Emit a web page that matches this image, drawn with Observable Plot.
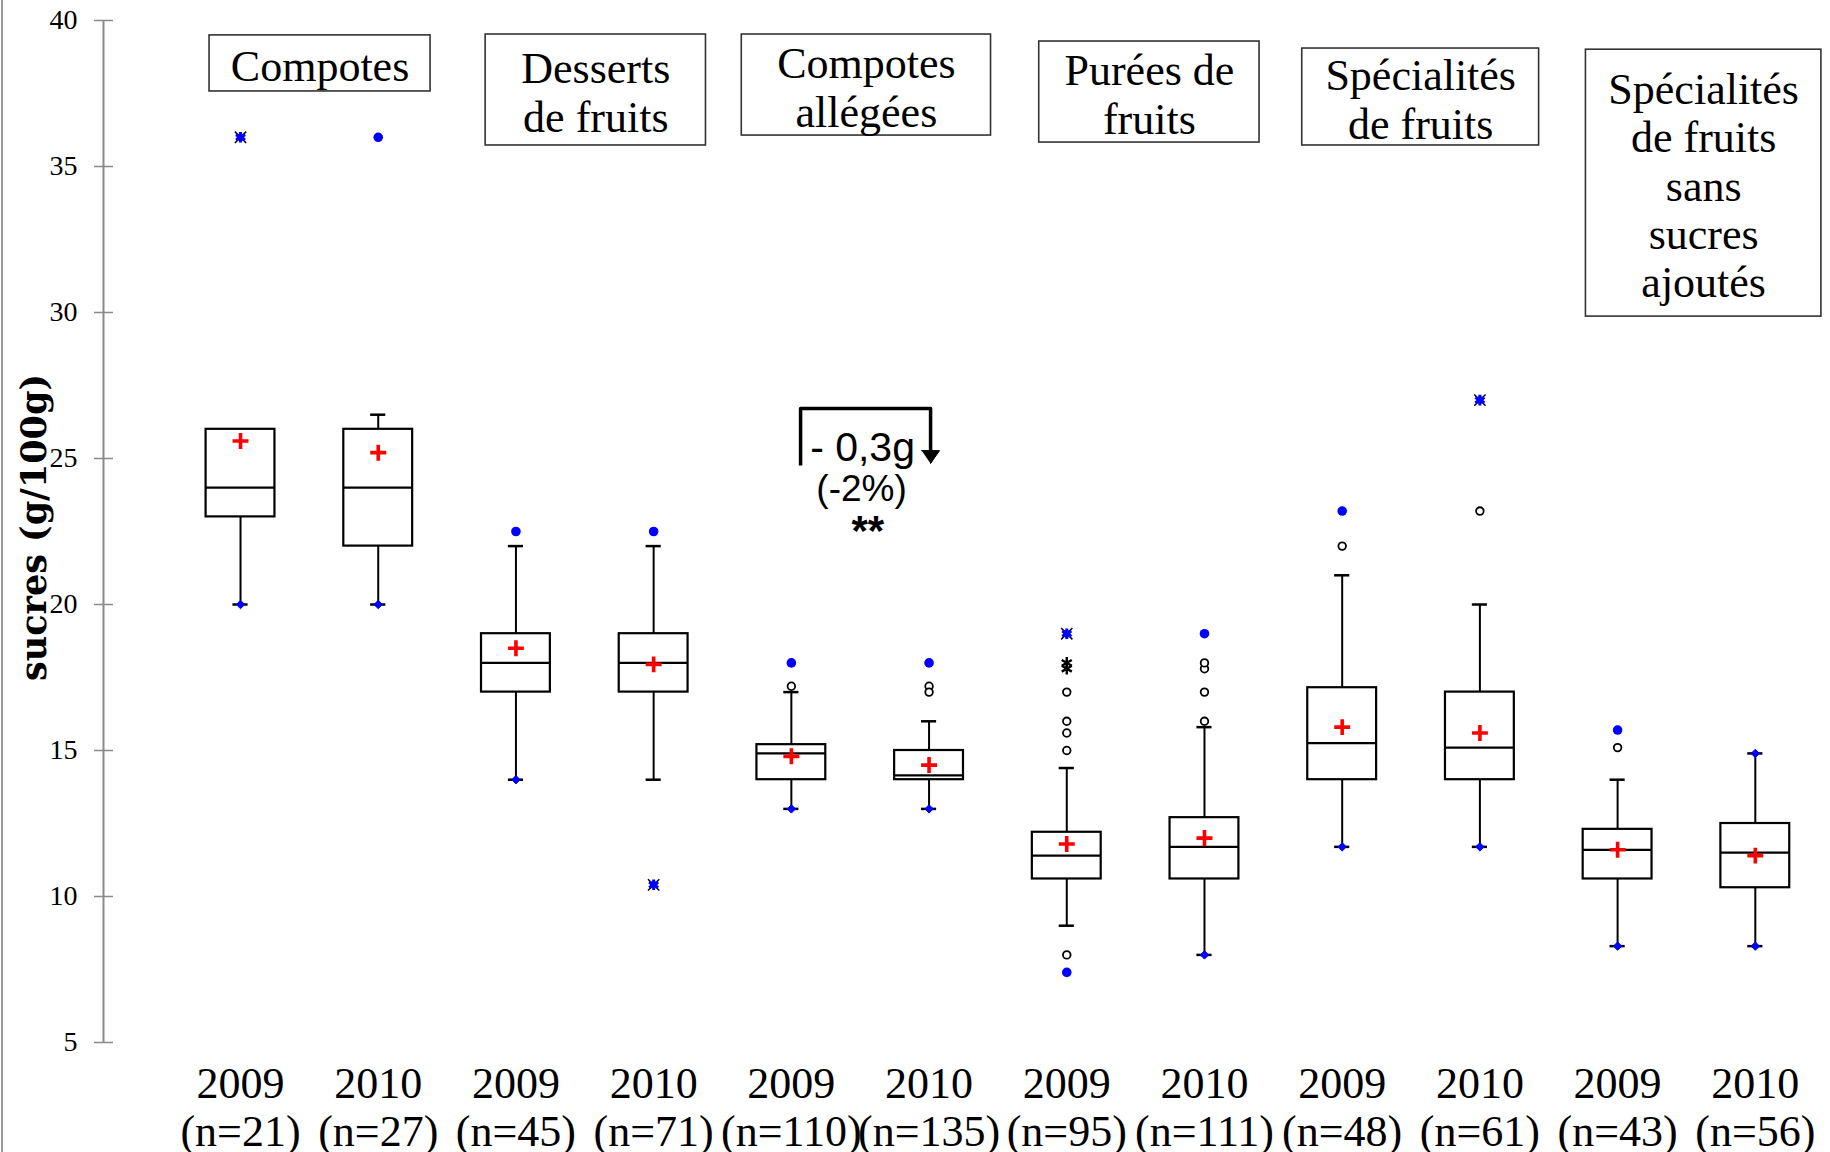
<!DOCTYPE html>
<html>
<head>
<meta charset="utf-8">
<script src="https://cdn.jsdelivr.net/npm/d3@7"></script>
<script src="https://cdn.jsdelivr.net/npm/@observablehq/plot@0.6"></script>
<style>
  body { margin: 0; background: #fff; }
  #wrap { position: relative; width: 1830px; height: 1152px; overflow: hidden; }
  #border { position: absolute; left: 1px; top: 0; width: 2px; height: 1152px; background: #9a9a9a; }
</style>
</head>
<body>
<div id="wrap"><div id="border"></div></div>
<script>
// ---------- data ----------
const years   = [2009, 2010, 2009, 2010, 2009, 2010, 2009, 2010, 2009, 2010, 2009, 2010];
const nCounts = [21, 27, 45, 71, 110, 135, 95, 111, 48, 61, 43, 56];
const groups  = ["Compotes", "Desserts\nde fruits", "Compotes\nallégées", "Purées de\nfruits",
                 "Spécialités\nde fruits", "Spécialités\nde fruits\nsans\nsucres\najoutés"];

const whiskerLow  = [20, 20, 14, 14, 13, 13, 9, 8, 11.7, 11.7, 8.3, 8.3];
const q1s         = [23, 22, 17, 17, 14, 14, 10.6, 10.6, 14, 14, 10.6, 10.3];
const medians     = [24, 24, 18, 18, 14.9, 14.15, 11.4, 11.7, 15.25, 15.1, 11.6, 11.5];
const q3s         = [26, 26, 19, 19, 15.2, 15, 12.2, 12.7, 17.15, 17, 12.3, 12.5];
const whiskerHigh = [26, 26.5, 22, 22, 17, 16, 14.4, 15.8, 21, 20, 14, 14.9];
const means       = [25.6, 25.2, 18.5, 17.95, 14.8, 14.5, 11.8, 12.0, 15.8, 15.6, 11.6, 11.4];

const minVals  = [20, 20, 14, 10.4, 13, 13, 7.4, 8, 11.7, 11.7, 8.3, 8.3];
const minShape = ["diamond","diamond","diamond","star","diamond","diamond","dot","diamond","diamond","diamond","diamond","diamond"];
const maxVals  = [36, 36, 22.5, 22.5, 18, 18, 19, 19, 23.2, 27, 15.7, 14.9];
const maxShape = ["star","dot","dot","dot","dot","dot","star","dot","dot","star","dot","diamond"];

const outliers = [[], [], [], [], [17.2], [17.2, 17.0], [8, 15, 15.6, 16, 17], [16, 17, 17.8, 18], [22], [23.2], [15.1], []];
const extremes = [[], [], [], [], [], [], [17.8, 18], [], [], [], [], []];

const yTicks = [5, 10, 15, 20, 25, 30, 35, 40];

// group label boxes (in data units)
const labelBoxX1 = [-0.225, 1.78, 3.64, 5.80, 7.71, 9.77];
const labelBoxX2 = [1.38, 3.38, 5.45, 7.40, 9.43, 11.48];
const labelBoxTop = [39.49, 39.52, 39.52, 39.28, 39.04, 39.0];
const labelBoxBottom = [37.57, 35.72, 36.06, 35.82, 35.72, 29.86];

// annotation "- 0,3g" (data units)
const bracketPts = [{x: 4.067, y: 24.76}, {x: 4.067, y: 26.71}, {x: 5.011, y: 26.71}, {x: 5.011, y: 25.2}];
const arrowHeadPts = [{x: 4.946, y: 25.27}, {x: 5.076, y: 25.27}, {x: 5.011, y: 24.83}];
const annotTexts = [
  {x: 4.517, y: 24.93, text: "- 0,3g", size: 41, weight: "normal"},
  {x: 4.51,  y: 23.56, text: "(-2%)", size: 37, weight: "normal"},
  {x: 4.555, y: 22.05, text: "**",    size: 42, weight: "bold"}
];

// ---------- derived tables ----------
const stats = years.map((year, i) => ({
  i, year, n: nCounts[i], lo: whiskerLow[i], q1: q1s[i], med: medians[i],
  q3: q3s[i], hi: whiskerHigh[i], mean: means[i]
}));
const outPts = outliers.flatMap((vals, i) => vals.map(v => ({i, v})));
const extPts = extremes.flatMap((vals, i) => vals.map(v => ({i, v})));
const endPts = [
  ...minVals.map((v, i) => ({i, v, shape: minShape[i]})),
  ...maxVals.map((v, i) => ({i, v, shape: maxShape[i]}))
];
const labelBoxes = groups.map((label, g) => ({
  label, x1: labelBoxX1[g], x2: labelBoxX2[g], y1: labelBoxBottom[g], y2: labelBoxTop[g]
}));

const halfBox = 0.25, halfCap = 0.055;
const xDomain = [-0.995, 11.546];
const SERIF = "'Liberation Serif', 'Times New Roman', serif";
const SANS = "'Liberation Sans', Arial, sans-serif";
const BLUE = "#0000ff";
const stars = endPts.filter(d => d.shape === "star");

const chart = Plot.plot({
  width: 1830,
  height: 1152,
  marginLeft: 103,
  marginRight: 0,
  marginTop: 20,
  marginBottom: 110,
  x: {domain: xDomain},
  y: {domain: [5, 40]},
  style: {fontFamily: SERIF, color: "black", background: "white"},
  marks: [
    // y axis line + ticks crossing it
    Plot.ruleX([xDomain[0]], {stroke: "#8a8a8a", strokeWidth: 2}),
    Plot.axisY({ticks: yTicks, tickSize: 19, dx: 10, stroke: "#8a8a8a", strokeWidth: 1.5, tickFormat: () => "", label: null}),
    Plot.axisY({ticks: yTicks, tickSize: 0, tickPadding: 26, fontSize: 28, fontFamily: SERIF, label: null}),
    // y axis title
    Plot.text(["sucres (g/100g)"], {
      frameAnchor: "left", textAnchor: "middle", lineAnchor: "middle", rotate: -90, dx: -69, dy: -4,
      fontSize: 35, fontWeight: "bold", fontFamily: "'DejaVu Serif', serif", fill: "black"
    }),
    // x axis labels
    Plot.axisX({
      ticks: d3.range(years.length), tickSize: 0, tickPadding: 21,
      tickFormat: i => `${years[i]}\n(n=${nCounts[i]})`,
      fontSize: 44, lineHeight: 1.1, fontFamily: SERIF, label: null
    }),
    // whiskers
    Plot.ruleX(stats, {x: "i", y1: "q3", y2: "hi", stroke: "black", strokeWidth: 2}),
    Plot.ruleX(stats, {x: "i", y1: "lo", y2: "q1", stroke: "black", strokeWidth: 2}),
    Plot.ruleY(stats, {y: "hi", x1: d => d.i - halfCap, x2: d => d.i + halfCap, stroke: "black", strokeWidth: 2.5}),
    Plot.ruleY(stats, {y: "lo", x1: d => d.i - halfCap, x2: d => d.i + halfCap, stroke: "black", strokeWidth: 2.5}),
    // boxes
    Plot.rect(stats, {x1: d => d.i - halfBox, x2: d => d.i + halfBox, y1: "q1", y2: "q3", fill: "white", stroke: "black", strokeWidth: 2.2}),
    Plot.ruleY(stats, {y: "med", x1: d => d.i - halfBox, x2: d => d.i + halfBox, stroke: "black", strokeWidth: 2.2}),
    // outliers
    Plot.dot(outPts, {x: "i", y: "v", r: 3.8, fill: "white", stroke: "black", strokeWidth: 1.8}),
    Plot.dot(extPts, {x: "i", y: "v", symbol: "asterisk", r: 5.5, stroke: "black", strokeWidth: 2.4}),
    // min / max
    Plot.dot(endPts.filter(d => d.shape === "diamond"), {x: "i", y: "v", symbol: "diamond2", r: 3.8, fill: BLUE, stroke: BLUE, strokeWidth: 1}),
    Plot.dot(endPts.filter(d => d.shape === "dot"), {x: "i", y: "v", r: 4.8, fill: BLUE, stroke: "none"}),
    Plot.dot(stars, {x: "i", y: "v", symbol: "times", r: 5.2, stroke: "black", strokeWidth: 1.5}),
    Plot.dot(stars, {x: "i", y: "v", r: 3.8, fill: BLUE, stroke: "none"}),
    Plot.dot(stars, {x: "i", y: "v", symbol: "asterisk", r: 5, stroke: BLUE, strokeWidth: 3}),
    // means
    Plot.dot(stats, {x: "i", y: "mean", symbol: "plus", r: 5.2, stroke: "#ff0000", strokeWidth: 3.6}),
    // group label boxes
    Plot.rect(labelBoxes, {x1: "x1", x2: "x2", y1: "y1", y2: "y2", fill: "white", stroke: "#333", strokeWidth: 1.6}),
    Plot.text(labelBoxes, {
      x: d => (d.x1 + d.x2) / 2, y: d => (d.y1 + d.y2) / 2, text: "label", dy: 2,
      fontSize: 44, lineHeight: 1.1, fontFamily: SERIF, fill: "black", lineAnchor: "middle"
    }),
    // annotation
    Plot.line(bracketPts, {x: "x", y: "y", stroke: "black", strokeWidth: 3.5, strokeLinejoin: "round", strokeLinecap: "butt"}),
    Plot.line(arrowHeadPts, {x: "x", y: "y", fill: "black", stroke: "black", strokeWidth: 1}),
    Plot.text(annotTexts.filter(d => d.weight === "normal"), {
      x: "x", y: "y", text: "text", fontSize: d => d.size, lineAnchor: "bottom",
      fontFamily: SANS, fill: "black"
    }),
    Plot.text(annotTexts.filter(d => d.weight === "bold"), {
      x: "x", y: "y", text: "text", fontSize: 42, fontWeight: "bold", lineAnchor: "bottom",
      fontFamily: SANS, fill: "black"
    })
  ]
});

document.getElementById("wrap").appendChild(chart);
</script>
</body>
</html>
